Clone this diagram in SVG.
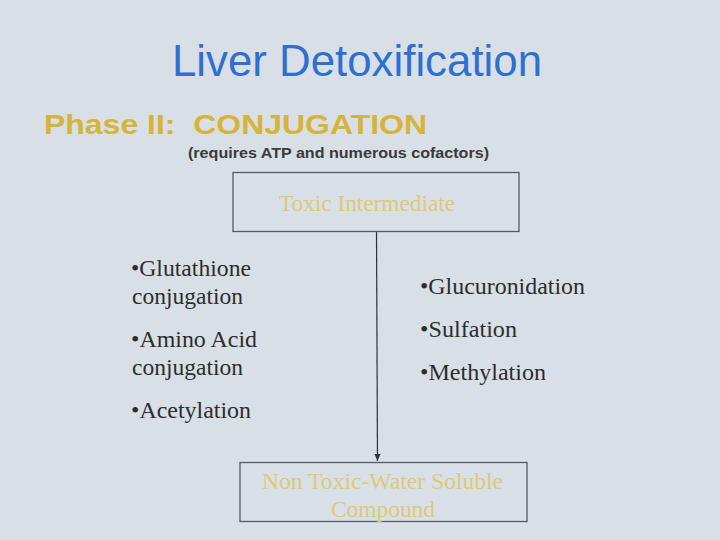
<svg xmlns="http://www.w3.org/2000/svg" width="720" height="540" viewBox="0 0 720 540">
<style>
.title{font-family:"Liberation Sans",Arial,sans-serif;font-size:44px;fill:#2f6fcf}
.phase{font-family:"Liberation Sans",Arial,sans-serif;font-size:28px;font-weight:bold;fill:#d6b43a}
.sub{font-family:"Liberation Sans",Arial,sans-serif;font-size:14px;font-weight:bold;fill:#3a3a3a}
.box{fill:none;stroke:#555b63;stroke-width:1.3}
.boxtxt{font-family:"Liberation Serif","Times New Roman",serif;font-size:23.5px;fill:#d9cb78}
.bul{font-family:"Liberation Serif","Times New Roman",serif;font-size:23.5px;fill:#2d2d2d}
.conn{stroke:#333;stroke-width:1.2;fill:none}
</style>
<defs>
<marker id="arr" markerWidth="8" markerHeight="8" refX="7" refY="4" orient="auto" markerUnits="userSpaceOnUse">
<path d="M0,1 L7,4 L0,7 Z" fill="#333"/>
</marker>
</defs>
<rect width="720" height="540" fill="#d9dfe6"/>
<text class="title" x="172" y="76" textLength="370" lengthAdjust="spacingAndGlyphs">Liver Detoxification</text>
<text class="phase" x="44" y="134" textLength="383" lengthAdjust="spacingAndGlyphs" xml:space="preserve">Phase II:  CONJUGATION</text>
<text class="sub" x="188" y="158" textLength="301" lengthAdjust="spacingAndGlyphs">(requires ATP and numerous cofactors)</text>
<g id="connectors">
<line class="conn" x1="376.5" y1="231" x2="377.5" y2="461" marker-end="url(#arr)"/>
</g>
<g id="toxic">
<rect class="box" x="233" y="172.5" width="286" height="59"/>
<text class="boxtxt" x="279" y="211" textLength="176" lengthAdjust="spacingAndGlyphs">Toxic Intermediate</text>
</g>
<g id="nontoxic">
<rect class="box" x="240" y="462.5" width="287" height="59"/>
<text class="boxtxt" x="262" y="489" textLength="241" lengthAdjust="spacingAndGlyphs">Non Toxic-Water Soluble</text>
<text class="boxtxt" x="331" y="517" textLength="104" lengthAdjust="spacingAndGlyphs">Compound</text>
</g>
<g id="left-list">
<text class="bul" x="131" y="276" textLength="120" lengthAdjust="spacingAndGlyphs">•Glutathione</text>
<text class="bul" x="132" y="304" textLength="111" lengthAdjust="spacingAndGlyphs">conjugation</text>
<text class="bul" x="131" y="347" textLength="126" lengthAdjust="spacingAndGlyphs">•Amino Acid</text>
<text class="bul" x="132" y="375" textLength="111" lengthAdjust="spacingAndGlyphs">conjugation</text>
<text class="bul" x="131" y="418" textLength="120" lengthAdjust="spacingAndGlyphs">•Acetylation</text>
</g>
<g id="right-list">
<text class="bul" x="420" y="294" textLength="165" lengthAdjust="spacingAndGlyphs">•Glucuronidation</text>
<text class="bul" x="420" y="337" textLength="97" lengthAdjust="spacingAndGlyphs">•Sulfation</text>
<text class="bul" x="420" y="380" textLength="126" lengthAdjust="spacingAndGlyphs">•Methylation</text>
</g>
</svg>
